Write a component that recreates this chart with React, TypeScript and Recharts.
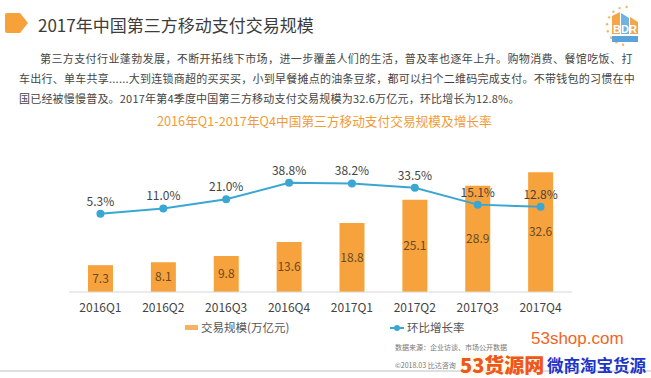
import React from 'react';
import { ComposedChart, Bar, Line, XAxis, YAxis, LabelList } from 'recharts';

const categories = ['2016Q1', '2016Q2', '2016Q3', '2016Q4', '2017Q1', '2017Q2', '2017Q3', '2017Q4'];
const scaleValues = [7.3, 8.1, 9.8, 13.6, 18.8, 25.1, 28.9, 32.6];
const growthValues = [5.3, 11.0, 21.0, 38.8, 38.2, 33.5, 15.1, 12.8];

const data = categories.map((c, i) => ({ name: c, scale: scaleValues[i], growth: growthValues[i] }));

const FONT = '"Noto Sans CJK SC", "Noto Sans", sans-serif';
const ORANGE = '#F7A33D';
const BLUE = '#3AA7D3';

const paraLines = [
  '第三方支付行业蓬勃发展，不断开拓线下市场，进一步覆盖人们的生活，普及率也逐年上升。购物消费、餐馆吃饭、打',
  '车出行、单车共享......大到连锁商超的买买买，小到早餐摊点的油条豆浆，都可以扫个二维码完成支付。不带钱包的习惯在中',
  '国已经被慢慢普及。2017年第4季度中国第三方移动支付交易规模为32.6万亿元，环比增长为12.8%。',
];

export default function App() {
  return (
    <div style={{ position: 'absolute', left: 0, top: 0, width: 651, height: 378, background: '#fff', overflow: 'hidden', fontFamily: FONT }}>
      <svg style={{ position: 'absolute', left: 0, top: 0 }} width={651} height={378}>
        <path d="M7 13 H20 L28 23 L20 33 H7 Q5 33 5 31 V15 Q5 13 7 13 Z" fill="#F6A13A" />
        <g>
          {Array.from({ length: 9 }).map((_, i) => {
            const a = Math.PI * (0.55 + i * 0.12);
            return <circle key={i} cx={626 + 19 * Math.cos(a)} cy={26 + 19 * Math.sin(a)} r={1.2} fill="#F4B860" />;
          })}
          <polygon points="612,16 620,12 620,34 612,34" fill="#F5A54A" />
          <polygon points="621,13 629,18 629,34 621,34" fill="#6FB3E0" />
          <polygon points="630,17 638,22 638,34 630,34" fill="#F5A54A" />
          <text x={625} y={33} textAnchor="middle" fontSize={11} fontWeight={700} fill="#fff" fontFamily="Arial">BDR</text>
          <rect x={612} y={36} width={26} height={6} fill="#5AA3DA" />
        </g>
        <line x1={0} y1={371} x2={651} y2={371} stroke="#d4d4d4" strokeWidth={1.5} />
      </svg>
      <div style={{ position: 'absolute', left: 38, top: 13, fontSize: 17, color: '#3c3c3c', whiteSpace: 'nowrap', lineHeight: '24px' }}>
        2017年中国第三方移动支付交易规模
      </div>
      {paraLines.map((t, i) => (
        <div key={i} style={{ position: 'absolute', left: i === 0 ? 40 : 19, top: 50 + i * 20, fontSize: 11, color: '#454545', whiteSpace: 'nowrap', lineHeight: '16px', letterSpacing: i === 0 ? 0.4 : i === 1 ? 0.25 : 0.2 }}>
          {t}
        </div>
      ))}
      <div style={{ position: 'absolute', left: 157, top: 112, fontSize: 12.7, color: '#F29B36', whiteSpace: 'nowrap', lineHeight: '18px' }}>
        2016年Q1-2017年Q4中国第三方移动支付交易规模及增长率
      </div>
      <div style={{ position: 'absolute', left: 0, top: 0 }}>
        <ComposedChart width={651} height={378} data={data} margin={{ top: 145, right: 79, bottom: 56, left: 69 }}>
          <XAxis dataKey="name" height={30} axisLine={{ stroke: '#d6d6d6' }} tickLine={false} tickMargin={5}
            tick={{ fontSize: 12, fill: '#444', fontFamily: FONT }} interval={0} />
          <YAxis yAxisId="left" hide domain={[0, 40]} />
          <YAxis yAxisId="right" hide orientation="right" domain={[-80, 80]} />
          <Bar yAxisId="left" dataKey="scale" fill={ORANGE} barSize={25} isAnimationActive={false}>
            <LabelList dataKey="scale" position="center" fill="#6a4a22" fontSize={12} fontFamily={FONT} formatter={(v: number) => v.toFixed(1)} />
          </Bar>
          <Line yAxisId="right" dataKey="growth" stroke={BLUE} strokeWidth={2} dot={{ r: 3, fill: BLUE, stroke: BLUE }} isAnimationActive={false}>
            <LabelList dataKey="growth" position="top" offset={8} fill="#444" fontSize={12} fontFamily={FONT} formatter={(v: number) => v.toFixed(1) + '%'} />
          </Line>
        </ComposedChart>
      </div>
      <div style={{ position: 'absolute', left: 185, top: 325, width: 13, height: 5, background: '#F5B460' }} />
      <div style={{ position: 'absolute', left: 201, top: 319, fontSize: 11.5, color: '#555', lineHeight: '16px', whiteSpace: 'nowrap' }}>交易规模(万亿元)</div>
      <div style={{ position: 'absolute', left: 390, top: 327, width: 14, height: 2, background: BLUE }} />
      <div style={{ position: 'absolute', left: 394, top: 325, width: 6, height: 6, borderRadius: 3, background: BLUE }} />
      <div style={{ position: 'absolute', left: 407, top: 319, fontSize: 11.5, color: '#555', lineHeight: '16px', whiteSpace: 'nowrap' }}>环比增长率</div>
      <div style={{ position: 'absolute', left: 395, top: 343, fontSize: 7, color: '#777', lineHeight: '9px', whiteSpace: 'nowrap' }}>数据来源：企业访谈、市场公开数据</div>
      <div style={{ position: 'absolute', left: 395, top: 361, fontSize: 7, color: '#777', lineHeight: '9px', whiteSpace: 'nowrap' }}>©2018.03 比达咨询</div>
      <div style={{ position: 'absolute', left: 531, top: 329, fontSize: 17, color: '#F26522', lineHeight: '20px', fontFamily: 'Arial, "Liberation Sans", sans-serif', whiteSpace: 'nowrap' }}>53shop.com</div>
      <div style={{ position: 'absolute', left: 460, top: 355, fontSize: 20, fontWeight: 900, color: '#F0561C', lineHeight: '20px', whiteSpace: 'nowrap', background: 'rgba(255,250,220,0.6)' }}>53货源网</div>
      <div style={{ position: 'absolute', left: 547, top: 355, fontSize: 16.5, fontWeight: 700, color: '#1C34C8', lineHeight: '20px', whiteSpace: 'nowrap' }}>微商淘宝货源</div>
    </div>
  );
}
